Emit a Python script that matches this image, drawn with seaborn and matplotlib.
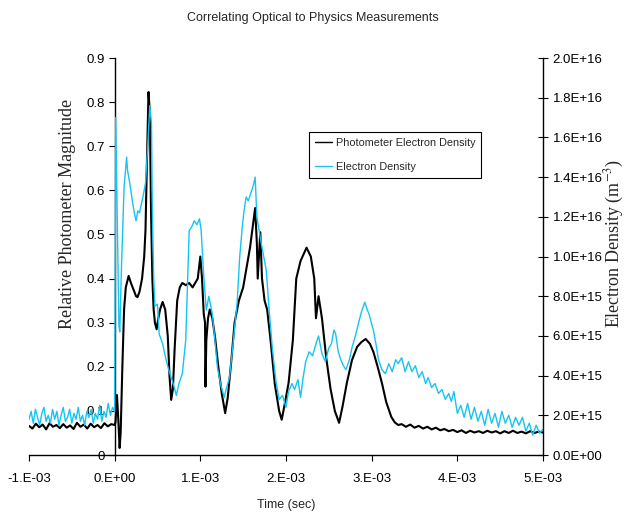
import numpy as np
import pandas as pd
import matplotlib
matplotlib.use("Agg")
import matplotlib.pyplot as plt
import seaborn as sns

# photometer trace (time in ms, relative magnitude)
phot_time = [-1.00, -0.96, -0.92, -0.88, -0.84, -0.80, -0.76, -0.72, -0.68, -0.64,
             -0.60, -0.56, -0.52, -0.48, -0.44, -0.40, -0.36, -0.32, -0.28, -0.24,
             -0.20, -0.16, -0.12, -0.08, -0.04,
             0.00, 0.01, 0.027, 0.04, 0.058, 0.07, 0.09, 0.11, 0.13, 0.163,
             0.19, 0.22, 0.25, 0.267, 0.29, 0.32, 0.345, 0.36, 0.375, 0.395,
             0.41, 0.425, 0.44, 0.455, 0.47, 0.49, 0.51, 0.53, 0.56, 0.59,
             0.62, 0.64, 0.66, 0.68, 0.70, 0.73, 0.76, 0.79, 0.83, 0.87,
             0.91, 0.94, 0.97, 1.00, 1.02, 1.04, 1.055, 1.06, 1.07, 1.09,
             1.11, 1.14, 1.17, 1.21, 1.25, 1.29, 1.32, 1.36, 1.40, 1.45,
             1.50, 1.535, 1.58, 1.62, 1.64, 1.66, 1.67, 1.70, 1.72, 1.75,
             1.78, 1.82, 1.87, 1.92, 1.95, 1.98, 2.03, 2.08, 2.12, 2.17,
             2.24, 2.29, 2.33, 2.35, 2.38, 2.42, 2.47, 2.52, 2.57, 2.62,
             2.66, 2.71, 2.77, 2.83, 2.88, 2.93, 2.98, 3.02, 3.07, 3.12,
             3.17, 3.23, 3.27, 3.31,
             3.35, 3.40, 3.45, 3.50, 3.55, 3.60, 3.65, 3.70, 3.75, 3.80,
             3.85, 3.90, 3.95, 4.00, 4.05, 4.10, 4.15, 4.20, 4.25, 4.30,
             4.35, 4.40, 4.45, 4.50, 4.55, 4.60, 4.65, 4.70, 4.75, 4.80,
             4.85, 4.90, 4.95, 5.00]
phot_mag = [0.066, 0.060, 0.071, 0.063, 0.069, 0.058, 0.072, 0.064, 0.068, 0.061,
            0.070, 0.062, 0.067, 0.059, 0.073, 0.064, 0.069, 0.060, 0.071, 0.063,
            0.068, 0.061, 0.072, 0.065, 0.070,
            0.068, 0.075, 0.136, 0.090, 0.016, 0.050, 0.200, 0.330, 0.380, 0.406,
            0.390, 0.375, 0.360, 0.358, 0.370, 0.400, 0.450, 0.510, 0.650, 0.823,
            0.780, 0.550, 0.400, 0.330, 0.300, 0.285, 0.310, 0.330, 0.347, 0.330,
            0.270, 0.180, 0.125, 0.150, 0.240, 0.350, 0.380, 0.390, 0.385, 0.390,
            0.380, 0.390, 0.400, 0.450, 0.400, 0.320, 0.300, 0.155, 0.260, 0.310,
            0.330, 0.310, 0.270, 0.200, 0.140, 0.095, 0.130, 0.210, 0.300, 0.350,
            0.380, 0.420, 0.470, 0.530, 0.560, 0.480, 0.400, 0.505, 0.400, 0.350,
            0.330, 0.260, 0.160, 0.100, 0.080, 0.110, 0.163, 0.260, 0.400, 0.440,
            0.470, 0.450, 0.400, 0.310, 0.360, 0.310, 0.220, 0.150, 0.100, 0.073,
            0.110, 0.163, 0.215, 0.245, 0.256, 0.263, 0.252, 0.234, 0.200, 0.163,
            0.120, 0.086, 0.074, 0.068,
            0.070, 0.064, 0.069, 0.062, 0.066, 0.060, 0.064, 0.058, 0.062, 0.056,
            0.059, 0.054, 0.057, 0.052, 0.056, 0.050, 0.055, 0.051, 0.054, 0.050,
            0.055, 0.051, 0.054, 0.049, 0.054, 0.050, 0.055, 0.050, 0.053, 0.049,
            0.054, 0.050, 0.053, 0.051]

# electron density trace (time in ms, density in 1E+15 m^-3)
dens_time = [-1.000, -0.975, -0.950, -0.925, -0.900, -0.875, -0.850, -0.825, -0.800, -0.775,
             -0.750, -0.725, -0.700, -0.675, -0.650, -0.625, -0.600, -0.575, -0.550, -0.525,
             -0.500, -0.475, -0.450, -0.425, -0.400, -0.375, -0.350, -0.325, -0.300, -0.275,
             -0.250, -0.225, -0.200, -0.175, -0.150, -0.125, -0.100, -0.075, -0.050, -0.025,
             0.00, 0.012, 0.03, 0.05, 0.06, 0.08, 0.11, 0.14, 0.15, 0.18,
             0.21, 0.23, 0.25, 0.27, 0.29, 0.31, 0.33, 0.36, 0.385, 0.41,
             0.43, 0.44, 0.455, 0.47, 0.50, 0.52, 0.56, 0.60, 0.63, 0.66,
             0.69, 0.72, 0.75, 0.79, 0.83, 0.86, 0.87, 0.90, 0.93, 0.96,
             0.99, 1.01, 1.04, 1.07, 1.10, 1.14, 1.17, 1.20, 1.24, 1.28,
             1.30, 1.34, 1.38, 1.43, 1.46, 1.49, 1.51, 1.535, 1.56, 1.59,
             1.62, 1.64, 1.66, 1.69, 1.71, 1.74, 1.77, 1.80, 1.84, 1.88,
             1.92, 1.96, 2.00, 2.03, 2.07, 2.10, 2.14, 2.17, 2.20, 2.23,
             2.27, 2.31, 2.35, 2.38, 2.42, 2.46, 2.50, 2.53, 2.56, 2.58,
             2.61, 2.64, 2.67, 2.70, 2.74, 2.77, 2.81, 2.85, 2.88, 2.92,
             2.95, 2.97, 3.00, 3.02, 3.05, 3.08, 3.12, 3.16, 3.20, 3.24,
             3.28, 3.31, 3.35, 3.39, 3.43, 3.47, 3.51, 3.55, 3.59, 3.63,
             3.66, 3.70, 3.74, 3.78, 3.82, 3.86, 3.90, 3.93, 3.96, 4.00,
             4.04, 4.08, 4.12, 4.16, 4.20, 4.24, 4.28, 4.32, 4.36, 4.40,
             4.44, 4.48, 4.52, 4.56, 4.60, 4.64, 4.68, 4.72, 4.76, 4.80,
             4.84, 4.88, 4.92, 4.96, 5.00]
dens_e15 = [1.8, 2.2, 1.6, 2.3, 1.9, 1.5, 2.1, 2.4, 1.7, 2.0,
            1.6, 2.3, 1.8, 2.2, 1.5, 2.0, 2.4, 1.7, 1.9, 2.3,
            1.6, 2.1, 1.8, 2.4, 1.7, 2.0, 1.5, 2.2, 1.9, 2.3,
            1.6, 2.1, 1.8, 2.5, 1.7, 2.2, 1.9, 2.6, 2.0, 2.4,
            2.2, 17.0, 12.0, 6.5, 6.2, 9.5, 13.5, 15.0, 14.35, 13.6,
            12.7, 12.2, 11.8, 12.3, 12.2, 12.6, 13.0, 13.7, 15.5, 17.6,
            16.7, 12.4, 9.0, 7.5, 7.6, 6.1, 5.6, 4.8, 4.3, 3.9,
            3.5, 3.0, 3.6, 4.1, 5.8, 10.0, 11.3, 11.5, 11.8, 11.6,
            11.9, 11.3, 9.0, 7.3, 8.0, 7.1, 5.8, 4.4, 3.5, 2.9,
            3.3, 3.9, 5.5, 7.7, 10.0, 11.5, 12.3, 13.0, 12.8, 13.2,
            13.6, 14.0, 12.0, 11.2, 10.7, 10.0, 9.3, 7.5, 5.4, 3.8,
            2.8, 3.0, 2.4, 3.2, 3.6, 3.3, 3.8, 2.9, 3.9, 4.7,
            5.2, 5.0, 5.6, 6.0, 5.1, 4.7, 5.4, 5.6, 6.3, 6.1,
            5.2, 4.8, 4.5, 4.3, 4.8, 5.4, 6.0, 6.7, 7.2, 7.7,
            7.3, 7.1, 6.6, 6.3, 5.6, 4.8, 4.3, 4.1, 4.6, 4.2,
            4.8, 4.6, 4.9, 4.2, 4.7, 4.2, 4.5, 3.9, 4.2, 3.6,
            3.9, 3.4, 3.6, 3.1, 3.3, 2.8, 3.1, 2.7, 3.2, 2.1,
            2.5, 1.9, 2.6, 1.8, 2.4, 1.7, 2.2, 1.5, 2.3, 1.6,
            2.1, 1.4, 2.2, 1.6, 2.0, 1.4, 1.9, 1.5, 1.9, 1.2,
            1.6, 1.0, 1.5, 1.1, 1.3]

x_ticks = [-1, 0, 1, 2, 3, 4, 5]
x_tick_labels = ["-1.E-03", "0.E+00", "1.E-03", "2.E-03", "3.E-03", "4.E-03", "5.E-03"]
left_ticks = [0, 0.1, 0.2, 0.3, 0.4, 0.5, 0.6, 0.7, 0.8, 0.9]
left_tick_labels = ["0", "0.1", "0.2", "0.3", "0.4", "0.5", "0.6", "0.7", "0.8", "0.9"]
right_ticks = [0, 2e15, 4e15, 6e15, 8e15, 1e16, 1.2e16, 1.4e16, 1.6e16, 1.8e16, 2e16]

phot = pd.DataFrame({"time": phot_time, "mag": phot_mag})
dens = pd.DataFrame({"time": dens_time, "dens": np.array(dens_e15) * 1e15})

sns.set_style("white")
plt.rcParams["font.family"] = ["Liberation Sans", "DejaVu Sans"]
plt.rcParams["mathtext.fontset"] = "stix"

blue = "#16C4F2"
fig = plt.figure(figsize=(6.26, 5.18), dpi=100)
ax = fig.add_axes([0.0463, 0.1216, 0.8211, 0.7664])
sns.lineplot(data=phot, x="time", y="mag", ax=ax, color="black", lw=1.5,
             estimator=None, sort=False)
ax2 = ax.twinx()
sns.lineplot(data=dens, x="time", y="dens", ax=ax2, color=blue, lw=1.0,
             estimator=None, sort=False)

ax.set_xlim(-1, 5)
ax.set_ylim(0, 0.9)
ax2.set_ylim(0, 2e16)
ax.set_xticks(x_ticks)
ax.set_xticklabels(x_tick_labels)
ax.set_yticks(left_ticks)
ax.set_yticklabels(left_tick_labels)
ax2.set_yticks(right_ticks)
ax2.set_yticklabels([f"{v:.1E}" for v in right_ticks])
ax.set_xlabel("")
ax.set_ylabel("")
ax2.set_ylabel("")

for s in ["top", "right"]:
    ax.spines[s].set_visible(False)
for s in ["top", "left", "bottom"]:
    ax2.spines[s].set_visible(False)
ax.spines["left"].set_position(("data", 0))  # value axis crosses at t = 0
for sp in [ax.spines["left"], ax.spines["bottom"], ax2.spines["right"]]:
    sp.set_color("black")
    sp.set_linewidth(1.0)

ax.tick_params(axis="x", direction="out", length=4, width=0.8, pad=9, labelsize=9.5,
               bottom=True, colors="black")
ax.tick_params(axis="y", direction="out", length=4, width=0.8, pad=3, labelsize=9.5,
               left=True, colors="black")
ax2.tick_params(axis="y", direction="inout", length=7, width=0.8, pad=3.5, labelsize=9.5,
                right=True, colors="black")

handles = [ax.get_lines()[0], ax2.get_lines()[0]]
leg = ax2.legend(handles, ["Photometer Electron Density", "Electron Density"],
                 loc="upper left", bbox_to_anchor=(0.4936, 0.7452),
                 bbox_transform=fig.transFigure, borderaxespad=0, fontsize=7.8,
                 frameon=True, fancybox=False, framealpha=1, edgecolor="black",
                 handlelength=1.6, handletextpad=0.3, labelspacing=1.3,
                 borderpad=0.55)
leg.get_frame().set_linewidth(0.8)
for ln in leg.get_lines():
    ln.set_linewidth(1.0)

fig.text(0.5, 0.965, "Correlating Optical to Physics Measurements", ha="center", va="center",
         fontsize=9)
fig.text(0.457, 0.025, "Time (sec)", ha="center", va="center", fontsize=9)
fig.text(0.108, 0.587, "Relative Photometer Magnitude", rotation=90, ha="center", va="center",
         fontsize=13, family="Liberation Serif")
fig.text(0.982, 0.531, "Electron Density (m$^{-3}$)", rotation=90, ha="center", va="center",
         fontsize=13, family="Liberation Serif")

fig.savefig("out.png", dpi=100, facecolor="white")
